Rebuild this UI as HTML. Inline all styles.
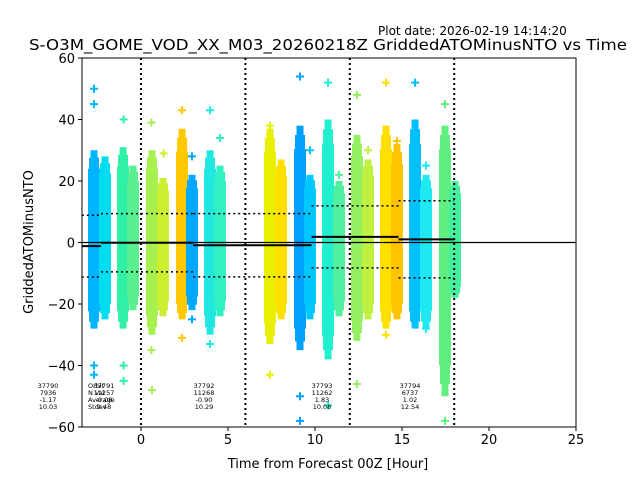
<!DOCTYPE html>
<html><head><meta charset="utf-8"><style>
body{margin:0;background:#fff;}
svg{display:block;font-family:"DejaVu Sans","Liberation Sans",sans-serif;}
</style></head><body>
<svg id="c" width="640" height="480" viewBox="0 0 640 480">
<rect width="640" height="480" fill="#fff"/>
<text x="378" y="35" font-size="12">Plot date: 2026-02-19 14:14:20</text>
<text x="328" y="50" font-size="15" text-anchor="middle" textLength="598" lengthAdjust="spacingAndGlyphs">S-O3M_GOME_VOD_XX_M03_20260218Z GriddedATOMinusNTO vs Time</text>
<text x="328" y="468" font-size="13" text-anchor="middle">Time from Forecast 00Z [Hour]</text>
<text transform="translate(33,242) rotate(-90)" font-size="13" text-anchor="middle">GriddedATOMinusNTO</text>
<g id="marks"></g>
<g id="axes"></g>
</svg>
<script>
const colX = [-2.70,-2.07,-1.03,-0.46,0.63,1.26,2.36,2.93,3.97,4.54,7.41,8.05,9.14,9.71,10.75,11.38,12.41,13.05,14.08,14.71,15.75,16.38,17.47,18.05];
const colTop = [30,28,31,25,30,21,37,22,30,25,37,27,38,22,40,20,35,27,38,32,40,22,38,20];
const colBot = [-28,-25,-28,-22,-30,-24,-25,-22,-30,-24,-33,-25,-35,-25,-38,-24,-32,-25,-28,-25,-28,-28,-50,-18];
const colColor = ["#00b4ff","#00dcf0","#30f0a8","#58f090","#a8f050","#ccf030","#ffc800","#00a8ff","#20e8e0","#30f0c4","#e8f000","#ffe000","#00a0ff","#00c8ff","#20f0d0","#50f0a0","#94f060","#c0f040","#ffe000","#ffc400","#00c0ff","#20e8f0","#60f080","#44f0a0"];
const outX = [-2.7,-2.7,-2.7,-2.7,-1.0,-1.0,-1.0,0.6,0.6,1.3,2.36,2.36,2.93,2.93,3.97,3.97,4.54,7.41,7.41,9.14,9.14,9.14,9.71,10.75,10.75,11.38,12.41,12.41,13.05,14.08,14.08,14.71,15.75,16.38,16.38,17.47,17.47,0.63];
const outY = [50,45,-40,-43,40,-40,-45,39,-35,29,43,-31,28,-25,43,-33,34,38,-43,54,-50,-58,30,52,-53,22,48,-46,30,52,-30,33,52,25,-28,45,-58,-48];
const orbits = ["37790","37791","37792","37793","37794"];
const nVals = ["7936","11257","11268","11262","6737"];
const means = [-1.17,-0.08,-0.90,1.83,1.02];
const stdevs = [10.03,9.48,10.29,10.08,12.54];
const segStart = [-3.4,-2.3,3.0,9.8,14.8];
const segEnd = [-2.3,3.0,9.8,14.8,18.0];
const xTicks = [0,5,10,15,20,25];
const yTicks = [-60,-40,-20,0,20,40,60];
const vLines = [0,6,12,18];

const L=82,R=576,T=58,B=427;
const xs = v => 141 + v*17.4;
const ys = v => 242.5 - v*3.075;
const NS="http://www.w3.org/2000/svg";
const marks=document.getElementById('marks'), axes=document.getElementById('axes');
function mk(tag,attrs,parent){const e=document.createElementNS(NS,tag);for(const k in attrs)e.setAttribute(k,attrs[k]);parent.appendChild(e);return e;}

const clip=mk('clipPath',{id:'pc'},document.getElementById('c'));
mk('rect',{x:L,y:T,width:R-L,height:B-T},clip);
marks.setAttribute('clip-path','url(#pc)');

colX.forEach((x,i)=>{
  const cx=xs(x), t=colTop[i], b=colBot[i];
  const layers=[[0.8,12],[0.92,10],[1.0,7]];
  layers.forEach(([f,w])=>{
    const r=mk('rect',{x:cx-w/2,y:ys(t*f),width:w,height:ys(b*f)-ys(t*f),fill:colColor[i]},marks);
    
    
  });
});
outX.forEach((x,i)=>{
  let best=0;colX.forEach((c,j)=>{if(Math.abs(c-x)<Math.abs(colX[best]-x))best=j;});
  const px=xs(x),py=ys(outY[i]);
  const p=mk('path',{d:`M${px-4},${py}H${px+4}M${px},${py-4}V${py+4}`,stroke:colColor[best],'stroke-width':2},marks);
  
  
});
let z=mk('line',{x1:L,x2:R,y1:ys(0),y2:ys(0),stroke:'#000','stroke-width':1.2},marks);


vLines.forEach(v=>{
  const l=mk('line',{x1:xs(v),x2:xs(v),y1:T,y2:B,stroke:'#000','stroke-width':2,'stroke-dasharray':'2,3'},marks);
  
  
});
orbits.forEach((o,i)=>{
  const x1=xs(segStart[i]),x2=xs(segEnd[i]);
  const m=mk('line',{x1:x1,x2:x2,y1:ys(means[i]),y2:ys(means[i]),stroke:'#000','stroke-width':2},marks);
  
  
  [means[i]+stdevs[i],means[i]-stdevs[i]].forEach(v=>{
    const d=mk('line',{x1:x1,x2:x2,y1:ys(v),y2:ys(v),stroke:'#000','stroke-width':1.5,'stroke-dasharray':'2,3'},marks);
    
    
  });
});
const annX=[48,104,204,322,410];
orbits.forEach((o,i)=>{
  const vals=[o,nVals[i],means[i].toFixed(2),stdevs[i].toFixed(2)];
  vals.forEach((s,k)=>{
    const t=mk('text',{x:annX[i],y:388+k*7,'font-size':6.5,'text-anchor':'middle'},axes);
    t.textContent=s;
    
    
  });
});
['Orbit','N Val','Average','Stdev'].forEach((s,k)=>{
  const t=mk('text',{x:88,y:388+k*7,'font-size':6.5},axes);
  t.textContent=s;
  
  
});
const f=mk('rect',{x:L,y:T,width:R-L,height:B-T,fill:'none',stroke:'#000','stroke-width':1},axes);


xTicks.forEach(v=>{
  mk('line',{x1:xs(v),x2:xs(v),y1:B,y2:B+4,stroke:'#000'},axes);
  const t=mk('text',{x:xs(v),y:B+17,'font-size':13,'text-anchor':'middle'},axes);
  t.textContent=v;
  
  
});
yTicks.forEach(v=>{
  mk('line',{x1:L-4,x2:L,y1:ys(v),y2:ys(v),stroke:'#000'},axes);
  const t=mk('text',{x:L-7,y:ys(v)+5,'font-size':13,'text-anchor':'end'},axes);
  t.textContent=v<0?'\u2212'+(-v):v;
  
  
});
</script>
</body></html>
